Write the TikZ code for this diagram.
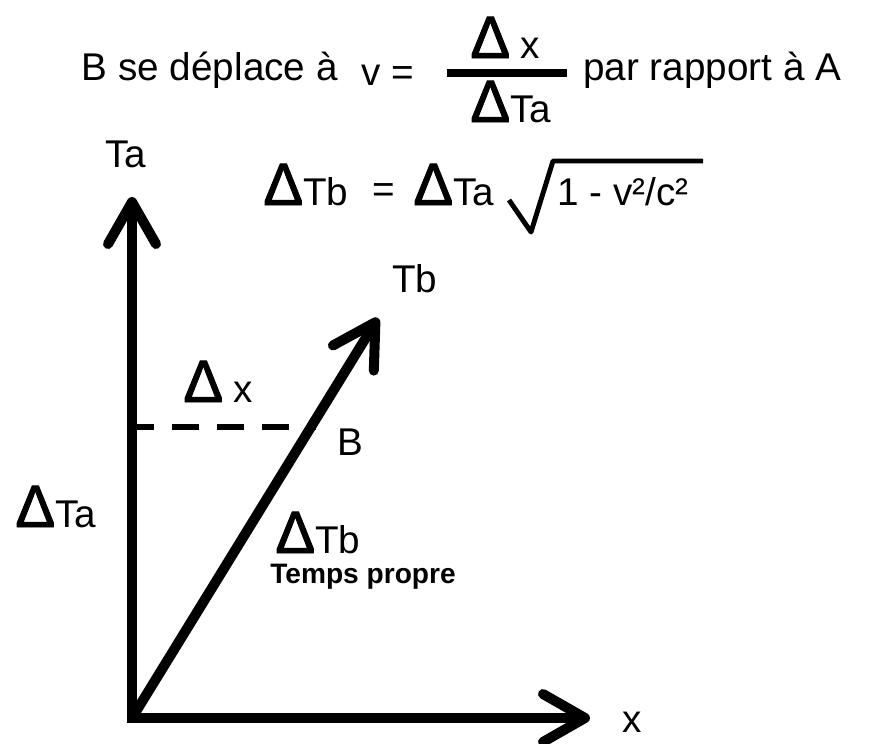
\documentclass[tikz,border=0pt]{standalone}
\usepackage{fontspec}
\setmainfont{Liberation Sans}
\newfontfamily\deltafont[FakeBold=1.6]{Liberation Sans}
\usepackage{tikz}
\usetikzlibrary{arrows.meta}
\newcommand{\bigD}{{\deltafont\fontsize{34}{34}\selectfont Δ}}
\tikzset{chev/.tip={Straight Barb[round,length=0.84cm,width=0.96cm]}}

\begin{document}
\begin{tikzpicture}[x=0.02cm,y=-0.02cm,
    lbl/.style={font=\fontsize{22}{22}\selectfont,inner sep=0pt,anchor=base west},
    axis/.style={line width=5.7pt}]
    \useasboundingbox (0,0) rectangle (876,744);

    \coordinate (o) at (132,718);
    \coordinate (ta) at (132,197);
    \coordinate (xx) at (590,718);
    \coordinate (tb) at (378,318);
    \coordinate (d1) at (127,427);
    \coordinate (d2) at (316,427);

    \draw[axis,chev-chev] (ta) -- (o) -- (xx);
    \draw[axis,-chev] (o) -- (tb);
    \draw[line width=3.8pt,dash pattern=on 0.54cm off 0.36cm] (d1) -- (d2);

    \node[lbl,anchor=base east] (dep) at (338,80) {B se déplace à};
    \node[lbl] (v) at (361,85) {v =};
    \node[lbl] (num) at (470,58) {\bigD{} x};
    \node[lbl] (den) at (470,122) {\bigD Ta};
    \coordinate (f1) at (447,73);
    \coordinate (f2) at (567,73);
    \draw[line width=4pt] (f1) -- (f2);
    \node[lbl] (rap) at (583,80) {par rapport à A};

    \node[lbl] (talbl) at (105,167) {Ta};
    \node[lbl] (dtb) at (263,205) {\bigD Tb};
    \node[lbl] (eq) at (372,202) {=};
    \node[lbl] (dta) at (413,205) {\bigD Ta};
    \coordinate (r1) at (509,200);
    \coordinate (r2) at (531,232);
    \coordinate (r3) at (553,161);
    \coordinate (r4) at (703,161);
    \draw[line width=2.8pt,line join=round] (r1) -- (r2) -- (r3) -- (r4);
    \node[lbl] (rad) at (557,205) {1 - v²/c²};

    \node[lbl] (tblbl) at (392,292) {Tb};
    \node[lbl] (dx) at (183,402) {\bigD{} x};
    \node[lbl] (b) at (337,455) {B};
    \node[lbl] (dtal) at (15,527) {\bigD Ta};
    \node[lbl] (dtbl) at (275,553) {\bigD Tb};
    \node[lbl,font=\fontsize{16}{16}\selectfont\bfseries] (tp) at (270,583) {Temps propre};
    \node[lbl] (xl) at (622,732) {x};
\end{tikzpicture}
\end{document}
